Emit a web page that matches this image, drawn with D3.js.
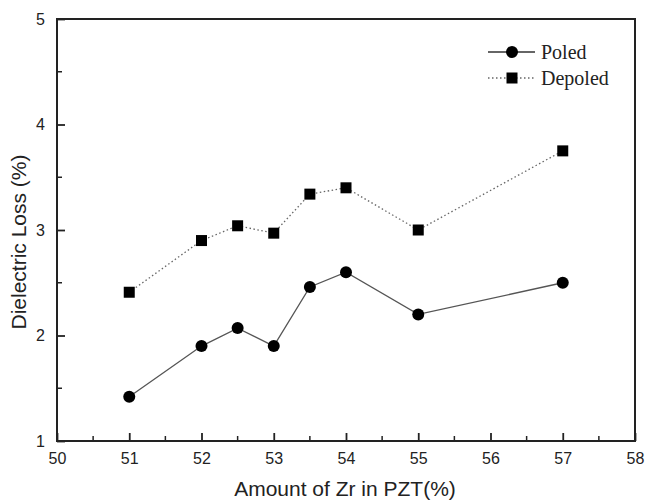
<!DOCTYPE html>
<html><head><meta charset="utf-8">
<script src="https://cdn.jsdelivr.net/npm/d3@7"></script>
<style>body{margin:0;background:#fff}svg{display:block}</style>
</head><body>
<svg id="c" width="645" height="501"></svg>
<script>
const zr = [51, 52, 52.5, 53, 53.5, 54, 55, 57];
const poled = [1.42, 1.90, 2.07, 1.90, 2.46, 2.60, 2.20, 2.50];
const depoled = [2.41, 2.90, 3.04, 2.97, 3.34, 3.40, 3.00, 3.75];
const xTicks = [50, 51, 52, 53, 54, 55, 56, 57, 58];
const yTicks = [1, 2, 3, 4, 5];
const seriesNames = ["Poled", "Depoled"];

const svg = d3.select("#c");
const L = 57, R = 635, T = 19, B = 441;
const x = d3.scaleLinear().domain([50, 58]).range([L, R]);
const y = d3.scaleLinear().domain([1, 5]).range([B, T]);

// minor ticks
const xMinor = d3.range(50.5, 58, 1);
const yMinor = d3.range(1.5, 5, 1);
const g = svg.append("g");
g.selectAll(".xm").data(xMinor).join("line")
  .attr("x1", d => x(d)).attr("x2", d => x(d)).attr("y1", B).attr("y2", B - 5)
  .attr("stroke", "#222").attr("stroke-width", 1.5);
g.selectAll(".ym").data(yMinor).join("line")
  .attr("y1", d => y(d)).attr("y2", d => y(d)).attr("x1", L).attr("x2", L + 5)
  .attr("stroke", "#222").attr("stroke-width", 1.5);

const xAxis = d3.axisBottom(x).tickValues(xTicks).tickSizeInner(-8).tickSizeOuter(0).tickPadding(12).tickFormat(d3.format("d"));
const yAxis = d3.axisLeft(y).tickValues(yTicks).tickSizeInner(-8).tickSizeOuter(0).tickPadding(12).tickFormat(d3.format("d"));
const gx = svg.append("g").attr("transform", `translate(0,${B})`).call(xAxis);
const gy = svg.append("g").attr("transform", `translate(${L},0)`).call(yAxis);
[gx, gy].forEach(a => {
  a.select(".domain").remove();
  a.selectAll(".tick line").attr("stroke", "#222").attr("stroke-width", 1.8);
  a.selectAll(".tick text").attr("fill", "#222").style("font-family", "'Liberation Sans', Arial, sans-serif").style("font-size", "16px");
});

// frame
svg.append("rect").attr("x", L).attr("y", T).attr("width", R - L).attr("height", B - T)
  .attr("fill", "none").attr("stroke", "#222").attr("stroke-width", 2);

const line = d3.line().x(d => x(d[0])).y(d => y(d[1]));
const pPts = zr.map((z, i) => [z, poled[i]]);
const dPts = zr.map((z, i) => [z, depoled[i]]);

svg.append("path").attr("d", line(pPts)).attr("fill", "none").attr("stroke", "#555").attr("stroke-width", 1.3);
svg.append("path").attr("d", line(dPts)).attr("fill", "none").attr("stroke", "#666").attr("stroke-width", 1.3).attr("stroke-dasharray", "1.5,2.5");

svg.selectAll(".pc").data(pPts).join("circle")
  .attr("cx", d => x(d[0])).attr("cy", d => y(d[1])).attr("r", 6).attr("fill", "#000");
svg.selectAll(".ds").data(dPts).join("rect")
  .attr("x", d => x(d[0]) - 5.5).attr("y", d => y(d[1]) - 5.5).attr("width", 11).attr("height", 11).attr("fill", "#000");

// legend
const lg = svg.append("g");
lg.append("line").attr("x1", 488).attr("x2", 535).attr("y1", 52).attr("y2", 52).attr("stroke", "#333").attr("stroke-width", 1.3);
lg.append("circle").attr("cx", 512).attr("cy", 52).attr("r", 6).attr("fill", "#000");
lg.append("line").attr("x1", 488).attr("x2", 535).attr("y1", 78).attr("y2", 78).attr("stroke", "#666").attr("stroke-width", 1.3).attr("stroke-dasharray", "1.5,2.5");
lg.append("rect").attr("x", 506.5).attr("y", 72.5).attr("width", 11).attr("height", 11).attr("fill", "#000");
lg.selectAll("text").data(seriesNames).join("text")
  .attr("x", 541).attr("y", (d, i) => 52 + i * 26).attr("dy", "0.35em")
  .attr("fill", "#222").style("font-family", "'Liberation Serif', 'Times New Roman', serif").style("font-size", "20px")
  .text(d => d);

// axis titles
svg.append("text").attr("x", 345).attr("y", 496).attr("text-anchor", "middle")
  .attr("fill", "#222").style("font-family", "'Liberation Sans', Arial, sans-serif").style("font-size", "21px")
  .text("Amount of Zr in PZT(%)");
svg.append("text").attr("transform", `translate(26,242) rotate(-90)`).attr("text-anchor", "middle")
  .attr("fill", "#222").style("font-family", "'Liberation Sans', Arial, sans-serif").style("font-size", "21px")
  .text("Dielectric Loss (%)");
</script>
</body></html>
